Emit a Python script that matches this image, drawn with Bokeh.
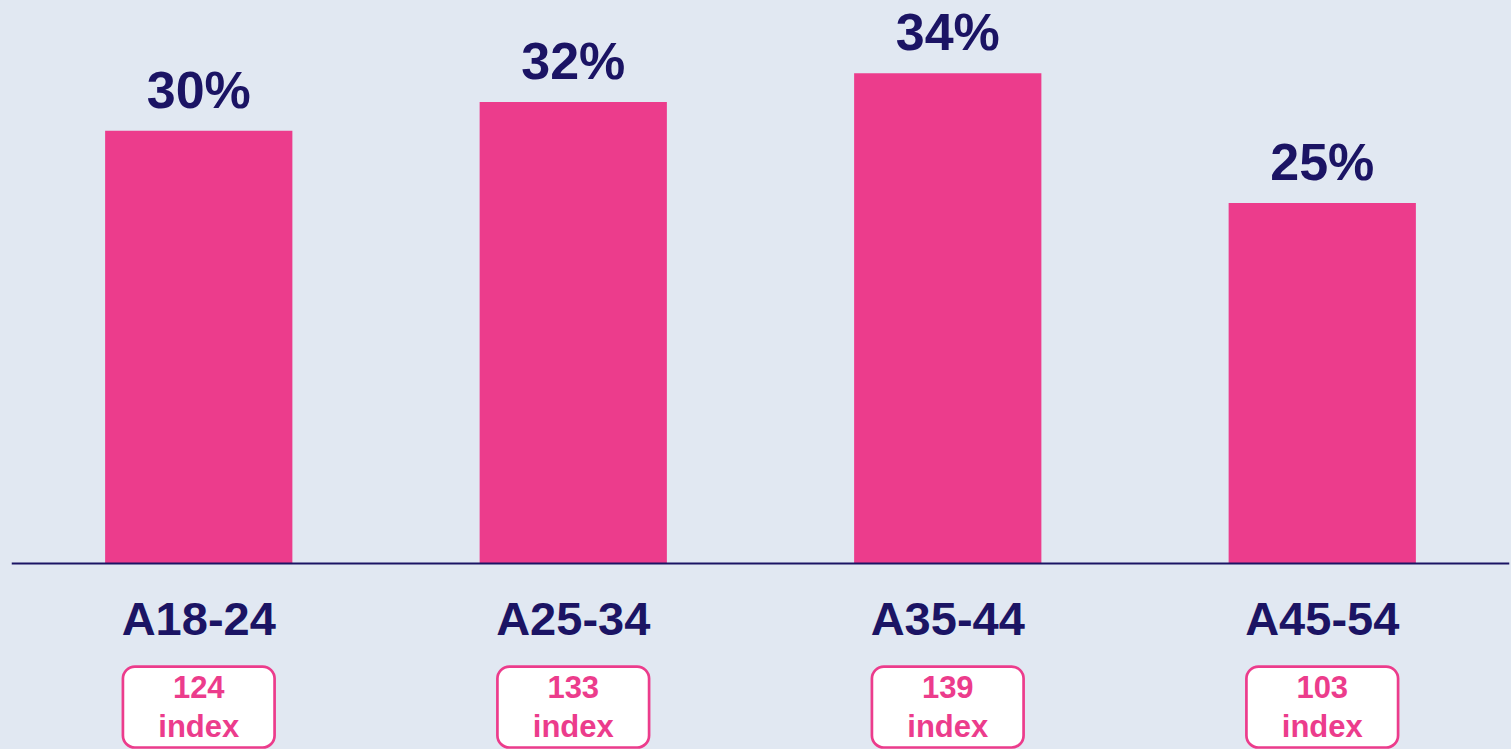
from bokeh.plotting import figure
from bokeh.models import ColumnDataSource, Range1d, FactorRange, Span, GlobalInlineStyleSheet
from bokeh.core.properties import value
from bokeh.embed import file_html
from bokeh.resources import INLINE

categories = ["A18-24", "A25-34", "A35-44", "A45-54"]
shares = [30, 32, 34, 25]
share_labels = ["30%", "32%", "34%", "25%"]
index_values = ["124", "133", "139", "103"]
index_word = ["index", "index", "index", "index"]

BG = "#E1E8F2"
PINK = "#EC3C8C"
NAVY = "#1B1464"
FONT = value("Liberation Sans")

src = ColumnDataSource(dict(cat=categories, share=shares, lab=share_labels,
                            idx=index_values, word=index_word))

p = figure(x_range=FactorRange(*categories, range_padding=0),
           y_range=Range1d(-12.90, 39.04),
           width=1511, height=749, output_backend="svg", toolbar_location=None,
           min_border_left=11, min_border_right=2, min_border_top=0, min_border_bottom=0,
           background_fill_color=BG, border_fill_color=BG, outline_line_color=None)
p.stylesheets = [GlobalInlineStyleSheet(css=f"body{{background:{BG};}}")]

p.xaxis.visible = False
p.yaxis.visible = False
p.grid.visible = False

p.vbar(x="cat", top="share", bottom=0, width=0.5, source=src, fill_color=PINK, line_color=None)
p.add_layout(Span(location=0, dimension="width", line_color=NAVY, line_width=2))

p.text(x="cat", y="share", text="lab", source=src, text_font=FONT, text_font_style="bold",
       text_font_size="52px", text_color=NAVY, text_align="center", text_baseline="alphabetic",
       y_offset=-41)
p.text(x="cat", y=0, text="cat", source=src, text_font=FONT, text_font_style="bold",
       text_font_size="47px", text_color=NAVY, text_align="center", text_baseline="alphabetic",
       y_offset=55)

p.vbar(x="cat", top=-7.15, bottom=-12.76, width=0.405, source=src, fill_color="white",
       line_color=PINK, line_width=2.7, border_radius=12)
p.text(x="cat", y=0, text="idx", source=src, text_font=FONT, text_font_style="bold",
       text_font_size="31px", text_color=PINK, text_align="center", text_baseline="alphabetic",
       y_offset=124)
p.text(x="cat", y=0, text="word", source=src, text_font=FONT, text_font_style="bold",
       text_font_size="31px", text_color=PINK, text_align="center", text_baseline="alphabetic",
       y_offset=163)

open("out.html", "w").write(file_html(p, INLINE))
